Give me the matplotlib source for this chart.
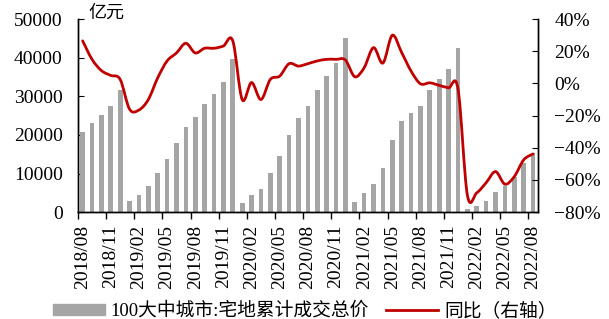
import numpy as np
import matplotlib.pyplot as plt
from matplotlib.ticker import PercentFormatter
from matplotlib.path import Path
from matplotlib.patches import PathPatch, Patch
from matplotlib.lines import Line2D

plt.rcParams['font.family'] = ['Liberation Serif', 'Noto Sans CJK SC']

# monthly series, 2018/08 .. 2022/08
months = [f'{y}/{m:02d}' for y in range(2018, 2023) for m in range(1, 13)]
months = months[months.index('2018/08'):months.index('2022/08') + 1]

# 100大中城市 宅地累计成交总价 (亿元)
total_price = [
    20750, 23100, 25260, 27600, 31770,
    2790, 4430, 6770, 10070, 13890, 17880, 22050, 24650, 28040, 30640, 33770, 39580,
    2430, 4340, 5990, 10240, 14500, 19960, 24300, 27600, 31770, 35160, 38630, 45140,
    2520, 4860, 7380, 11370, 18570, 23700, 25780, 27430, 31770, 34380, 37150, 42620,
    800, 1560, 2950, 5200, 6900, 9200, 12670, 15270,
]

# 同比 (%)
yoy = [
    26.5, 15.0, 8.0, 5.0, 2.5,
    -16.0, -16.5, -10.0, 3.5, 14.0, 19.0, 25.0, 19.0, 21.9, 21.9, 23.3, 26.5,
    -10.0, 0.6, -10.0, 2.5, 4.6, 12.3, 10.8, 12.3, 14.0, 15.0, 15.0, 14.6,
    4.2, 9.8, 22.3, 12.7, 30.0, 19.2, 7.7, -0.2, 0.4, -1.2, -2.7, -3.3,
    -69.4, -68.0, -61.7, -54.8, -62.6, -57.9, -47.5, -43.8,
]

BAR_C = '#A5A5A5'
LINE_C = '#C00000'


def smooth_path(xs, ys):
    # Excel-style smoothed line: cubic bezier segments through every data point
    pts = np.column_stack([xs, ys]).astype(float)
    verts = [pts[0]]
    codes = [Path.MOVETO]
    n = len(pts)
    for i in range(n - 1):
        p0 = pts[max(i - 1, 0)]
        p1, p2 = pts[i], pts[i + 1]
        p3 = pts[min(i + 2, n - 1)]
        c1 = p1 + (p2 - p0) / 6.0
        c2 = p2 - (p3 - p1) / 6.0
        verts += [c1, c2, p2]
        codes += [Path.CURVE4] * 3
    return Path(verts, codes)


fig = plt.figure(figsize=(6.09, 3.19), dpi=100)
ax = fig.add_axes([0.128, 0.335, 0.755, 0.605])
ax2 = ax.twinx()

x = np.arange(len(months))
ax.bar(x, total_price, width=0.5, color=BAR_C, zorder=2)
ax2.add_patch(PathPatch(smooth_path(x, yoy), facecolor='none', edgecolor=LINE_C,
                        lw=2.0, capstyle='round', joinstyle='round', zorder=3))

ax.set_xlim(-0.5, len(months) - 0.5)
ax.set_ylim(0, 50000)
ax.set_yticks(np.arange(0, 50001, 10000))
ax2.set_ylim(-80, 40)
ax2.set_yticks(np.arange(-80, 41, 20))
ax2.yaxis.set_major_formatter(PercentFormatter(decimals=0))

# tick marks between categories, labels at every 3rd month
ax.set_xticks(np.arange(-0.5, len(months), 3))
ax.set_xticklabels([])
ax.set_xticks(x[::3], minor=True)
ax.set_xticklabels(months[::3], minor=True, rotation=90, fontsize=14)
ax.tick_params(axis='x', which='major', direction='out', length=5, width=1)
ax.tick_params(axis='x', which='minor', length=0, pad=9)
ax.tick_params(axis='y', direction='in', length=4, labelsize=14, pad=11)
ax2.tick_params(axis='y', direction='in', length=4, labelsize=14, pad=12)

for a in (ax, ax2):
    a.spines['top'].set_visible(False)
    for s in ('left', 'right', 'bottom'):
        a.spines[s].set_linewidth(1.0)

ax.text(0.022, 1.03, '亿元', transform=ax.transAxes, fontsize=13, va='center', ha='left')

handles = [Patch(color=BAR_C), Line2D([], [], color=LINE_C, lw=2.0)]
labels = ['100大中城市:宅地累计成交总价', '同比（右轴）']
fig.legend(handles, labels, loc='center', bbox_to_anchor=(0.5, 0.025), ncol=2,
           frameon=False, fontsize=13.5, handlelength=2.8, handleheight=0.55,
           handletextpad=0.3, columnspacing=0.9)

fig.savefig('out.png', dpi=100)
